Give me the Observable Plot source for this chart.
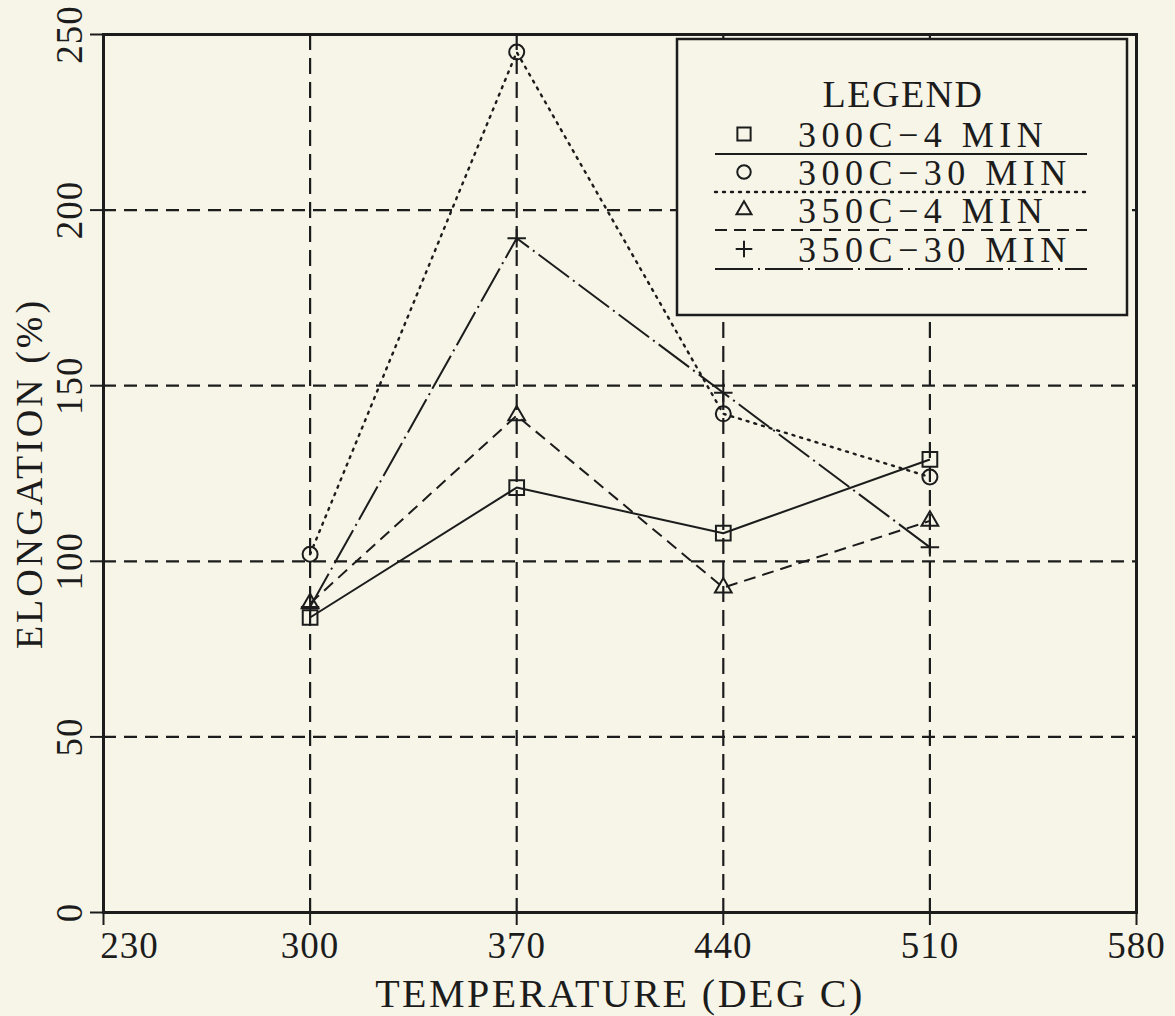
<!DOCTYPE html>
<html>
<head>
<meta charset="utf-8">
<script src="https://cdn.jsdelivr.net/npm/d3@7"></script>
<script src="https://cdn.jsdelivr.net/npm/@observablehq/plot@0.6"></script>
<style>
  html, body { margin: 0; padding: 0; background: #f6f5e8; }
  #chart { width: 1175px; height: 1016px; }
</style>
</head>
<body>
<div id="chart"></div>
<script>
// ---- data ----
const temps = [300, 370, 440, 510];
const seriesNames = ["300C\u22124 MIN", "300C\u221230 MIN", "350C\u22124 MIN", "350C\u221230 MIN"];
const elong300_4 = [84, 121, 108, 129];
const elong300_30 = [102, 245, 142, 124];
const elong350_4 = [88, 141.5, 92.5, 111.5];
const elong350_30 = [87, 192, 148, 104];
const xTicks = [230, 300, 370, 440, 510, 580];
const yTicks = [0, 50, 100, 150, 200, 250];
const xLabel = "TEMPERATURE (DEG C)";
const yLabel = "ELONGATION (%)";
const legendTitle = "LEGEND";

// ---- styles ----
const ink = "#1c1c1c";
const bg = "#f6f5e8";
const font = "Liberation Serif, Times New Roman, serif";
const seriesValues = [elong300_4, elong300_30, elong350_4, elong350_30];
const seriesStyle = [
  {symbol: "square", r: 8.3, dash: null, width: 2},
  {symbol: "circle", r: 7.5, dash: "2,6", width: 2.4},
  {symbol: "triangle", r: 6.2, dash: "12,7", width: 2},
  {symbol: "plus", r: 6, dash: "38,5,2,5", width: 2}
];

const tables = seriesValues.map((vals, i) =>
  temps.map((t, j) => ({temp: t, value: vals[j], series: seriesNames[i]}))
);

const marks = [
  Plot.gridY(yTicks.slice(1, -1), {stroke: ink, strokeOpacity: 1, strokeWidth: 2.2, strokeDasharray: "13,8"}),
  Plot.gridX(xTicks.slice(1, -1), {stroke: ink, strokeOpacity: 1, strokeWidth: 2.2, strokeDasharray: "16,8"})
];
tables.forEach((tbl, i) => {
  const s = seriesStyle[i];
  marks.push(Plot.line(tbl, {x: "temp", y: "value", stroke: ink, strokeWidth: s.width,
    strokeDasharray: s.dash || undefined, strokeLinecap: s.dash === "2,6" ? "round" : "butt"}));
});
tables.forEach((tbl, i) => {
  const s = seriesStyle[i];
  marks.push(Plot.dot(tbl, {x: "temp", y: "value", symbol: () => s.symbol, r: s.r,
    stroke: ink, strokeWidth: 2, fill: "none"}));
});
marks.push(
  Plot.frame({stroke: ink, strokeWidth: 3}),
  Plot.axisX({ticks: xTicks, tickSize: 13, tickFormat: () => "", label: null, stroke: ink, strokeWidth: 2}),
  Plot.axisY({ticks: yTicks, tickSize: 13, tickFormat: () => "", label: null, stroke: ink, strokeWidth: 2}),
  // x tick labels
  Plot.text(xTicks.slice(0, 1), {x: d => d, frameAnchor: "bottom", dy: 34, dx: 26, text: d => String(d),
    fontSize: 37, fontFamily: font, fill: ink, lineAnchor: "middle", textAnchor: "middle", className: "ticklab"}),
  Plot.text(xTicks.slice(1), {x: d => d, frameAnchor: "bottom", dy: 34, text: d => String(d),
    fontSize: 37, fontFamily: font, fill: ink, lineAnchor: "middle", textAnchor: "middle", className: "ticklab"}),
  // y tick labels (rotated)
  Plot.text(yTicks, {y: d => d, frameAnchor: "left", dx: -33, text: d => String(d), rotate: -90,
    fontSize: 37, fontFamily: font, fill: ink, lineAnchor: "middle", textAnchor: "middle", className: "ticklab"}),
  // axis titles
  Plot.text([xLabel], {frameAnchor: "bottom", dy: 82, text: d => d, fontSize: 40, fontFamily: font,
    fill: ink, lineAnchor: "middle", textAnchor: "middle", className: "xtitle"}),
  Plot.text([yLabel], {frameAnchor: "left", dx: -74, rotate: -90, text: d => d, fontSize: 38, fontFamily: font,
    fill: ink, lineAnchor: "middle", textAnchor: "middle", className: "ytitle"})
);

const chart = Plot.plot({
  width: 1175,
  height: 1016,
  marginLeft: 103,
  marginRight: 39,
  marginTop: 34,
  marginBottom: 104,
  x: {domain: [230, 580]},
  y: {domain: [0, 250]},
  style: {background: bg, color: ink, fontFamily: font},
  marks
});
document.getElementById("chart").appendChild(chart);

const svg = d3.select(chart);
svg.selectAll(".ticklab text").style("letter-spacing", "1px");
svg.selectAll(".xtitle text").style("letter-spacing", "2.5px");
svg.selectAll(".ytitle text").style("letter-spacing", "3px");

// ---- legend box inside plot ----
const lg = svg.append("g").attr("font-family", font).attr("fill", ink).attr("text-anchor", "start");
lg.append("rect").attr("x", 677).attr("y", 39).attr("width", 450).attr("height", 276)
  .attr("fill", bg).attr("stroke", ink).attr("stroke-width", 2.5);
lg.append("text").attr("x", 903).attr("y", 107).attr("text-anchor", "middle")
  .attr("font-size", 38).style("letter-spacing", "1.5px").text(legendTitle);
const symbolMap = {square: d3.symbolSquare, circle: d3.symbolCircle, triangle: d3.symbolTriangle, plus: d3.symbolPlus};
const baselines = [147, 185, 223, 262];
seriesNames.forEach((name, i) => {
  const s = seriesStyle[i];
  const yb = baselines[i];
  lg.append("path")
    .attr("d", d3.symbol(symbolMap[s.symbol], Math.PI * (s.r * 0.9) ** 2)())
    .attr("transform", `translate(744,${yb - 13})`)
    .attr("fill", "none").attr("stroke", ink).attr("stroke-width", 2);
  lg.append("text").attr("x", 798).attr("y", yb).attr("font-size", 36).attr("text-anchor", "start")
    .style("letter-spacing", "5.5px").text(name);
  lg.append("line").attr("x1", 715).attr("x2", 1087).attr("y1", yb + 7).attr("y2", yb + 7)
    .attr("stroke", ink).attr("stroke-width", s.dash === "2,6" ? 2.4 : 2)
    .attr("stroke-linecap", s.dash === "2,6" ? "round" : "butt")
    .attr("stroke-dasharray", s.dash || null);
});
</script>
</body>
</html>
